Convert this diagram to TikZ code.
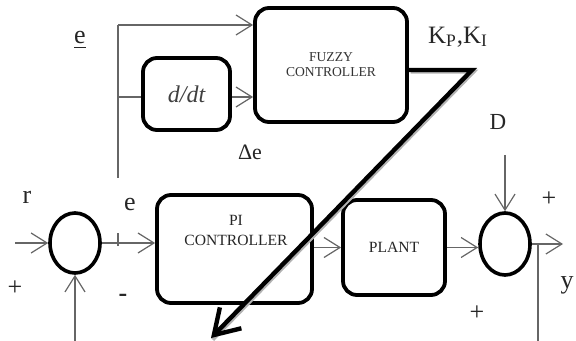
\documentclass[tikz,border=0pt]{standalone}
\usepackage{fontspec}
\setmainfont{Liberation Serif}
\usetikzlibrary{arrows.meta,shapes.geometric}
\begin{document}
\begin{tikzpicture}[x=0.5pt,y=-0.5pt,
  block/.style={draw, line width=1.9pt, rounded corners=7pt, inner sep=0pt, align=center},
  sumnode/.style={draw, ellipse, line width=1.8pt, inner sep=0pt, minimum width=25pt, minimum height=30pt},
  conn/.style={draw=black!60, line width=0.6pt},
  arr/.style={conn, -{Straight Barb[length=8pt,width=10pt,line width=0.6pt]}},
  lbl/.style={inner sep=0pt, text=black!85, font=\fontsize{13}{15}\selectfont},
  fbline/.style={line width=2.2pt, line join=miter, -{Straight Barb[length=12pt,width=15pt,line width=2.2pt]}},
  fbshadow/.style={draw=black!30, line width=2pt, line join=miter}
]
\useasboundingbox (0,0) rectangle (576,341);

% blocks
\node[block, minimum width=76pt, minimum height=57pt, text=black!80, font=\fontsize{6.8}{7.6}\selectfont] (fuzzy) at (331,65) {FUZZY\\CONTROLLER};
\node[block, minimum width=43.5pt, minimum height=36pt, text=black!75, font=\fontsize{12}{13}\selectfont\itshape] (ddt) at (186.5,94) {d/dt};
\node[block, minimum width=77.5pt, minimum height=54pt] (pi) at (234.5,249) {};
\node[inner sep=0pt, align=center, text=black!85, font=\fontsize{7.8}{10}\selectfont] (pitext) at (236,230) {PI\\CONTROLLER};
\node[block, minimum width=51pt, minimum height=47.5pt, text=black!85, font=\fontsize{7.8}{9}\selectfont] (plant) at (394,247.5) {PLANT};
\node[sumnode] (s1) at (75,243) {};
\node[sumnode, minimum height=31pt] (s2) at (505,244) {};

% coordinates
\coordinate (etop) at (118,25);
\coordinate (ebot) at (118,178);
\coordinate (jd) at (118,97);
\coordinate (jsum) at (118,246);
\coordinate (jtick) at (118,233);
\coordinate (rin) at (15,243);
\coordinate (fbin) at (75,341);
\coordinate (dtop) at (505,155);
\coordinate (yout) at (563,244);
\coordinate (ytap) at (538,244);
\coordinate (ybot) at (538,341);
\coordinate (kbend) at (472,70);
\coordinate (kend) at (211,338);

% connectors
\draw[conn] (ebot) -- (etop);
\draw[arr] (etop) -- (fuzzy.west |- etop);
\draw[conn] (jd) -- (ddt.west |- jd);
\draw[arr] (ddt.east |- jd) -- (fuzzy.west |- jd);
\draw[conn] (jsum) -- (jtick);
\draw[arr] (rin) -- (s1.west);
\draw[arr] (fbin) -- (s1.south);
\draw[arr] (s1.east) -- (pi.west |- s1.east);
\draw[arr] (pi.east |- plant.west) -- (plant.west);
\draw[arr] (plant.east) -- (s2.west |- plant.east);
\draw[arr] (dtop) -- (s2.north);
\draw[arr] (s2.east) -- (yout);
\draw[conn] (ytap) -- (ybot);

% gain-scheduling feedback (thick)
\draw[fbshadow] ([xshift=0.8pt,yshift=-0.8pt]fuzzy.east |- kbend) -- ([xshift=0.8pt,yshift=-0.8pt]kbend) -- ([xshift=0.8pt,yshift=-0.8pt]kend);
\draw[fbline] (fuzzy.east |- kbend) -- (kbend) -- (kend);

% labels
\node[lbl] (elbl) at (80,40) {\underline{e}};
\node[lbl, font=\fontsize{11}{13}\selectfont] (de) at (250,152) {Δe};
\node[lbl, font=\fontsize{12.5}{14}\selectfont] (kp) at (458,37) {K\textsubscript{P},K\textsubscript{I}};
\node[lbl, font=\fontsize{11.5}{13}\selectfont] (dlbl) at (498,122) {D};
\node[lbl] (rlbl) at (27,197) {r};
\node[lbl] (e2) at (130,205) {e};
\node[lbl] (p1) at (15,288) {+};
\node[lbl, font=\fontsize{13}{15}\bfseries] (m1) at (123,298) {-};
\node[lbl] (p2) at (549,199) {+};
\node[lbl] (p3) at (477,313) {+};
\node[lbl] (ylbl) at (567,285) {y};
\end{tikzpicture}
\end{document}
